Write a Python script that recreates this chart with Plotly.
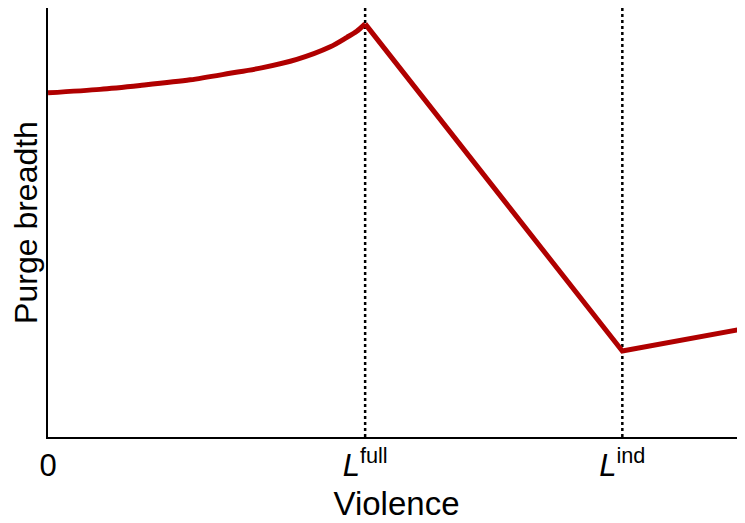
import plotly.graph_objects as go

# Curve: violence (x) vs purge breadth (y), in arbitrary units
# Rising convex part up to L^full
violence_rise = [0.0, 0.746, 1.32, 2.04, 2.61, 3.08, 3.57, 4.05, 4.29, 4.43, 4.55]
breadth_rise = [7.93, 8.01, 8.10, 8.23, 8.38, 8.51, 8.70, 8.99, 9.21, 9.35, 9.52]
# Linear part after L^full
violence_fall = [4.55, 8.24, 10.2]
breadth_fall = [9.52, 1.98, 2.56]

# Thresholds
thresholds = [4.55, 8.24]
tick_vals = [0.0, 4.55, 8.24]
tick_text = ["0", "<i>L</i><sup>full</sup>", "<i>L</i><sup>ind</sup>"]

RED = "#B00000"

fig = go.Figure()

for t in thresholds:
    fig.add_shape(type="line", xref="x", yref="paper", x0=t, x1=t, y0=0, y1=1.02,
                  line=dict(color="black", width=2.5, dash="dot"), layer="below")

fig.add_trace(go.Scatter(x=violence_rise, y=breadth_rise, mode="lines",
                         line=dict(color=RED, width=5, shape="spline", smoothing=0.8),
                         showlegend=False, cliponaxis=True))
fig.add_trace(go.Scatter(x=violence_fall, y=breadth_fall, mode="lines",
                         line=dict(color=RED, width=5),
                         showlegend=False, cliponaxis=True))

fig.update_layout(
    width=745, height=523,
    margin=dict(l=40, r=8, t=0, b=94),
    paper_bgcolor="white", plot_bgcolor="white",
    font=dict(family="Liberation Sans, Arial, sans-serif", size=32, color="black"),
)
fig.update_xaxes(range=[0, 10], showgrid=False, zeroline=False, showline=True,
                 linecolor="black", linewidth=2, tickvals=tick_vals, ticktext=tick_text,
                 ticks="", tickfont=dict(size=31),
                 title=dict(text="Violence", font=dict(size=33), standoff=10))
fig.update_yaxes(range=[0, 9.885], showgrid=False, zeroline=False, showline=True,
                 linecolor="black", linewidth=2, showticklabels=False, ticks="",
                 title=dict(text="Purge breadth", font=dict(size=32), standoff=6))

fig.write_html("out.html")
